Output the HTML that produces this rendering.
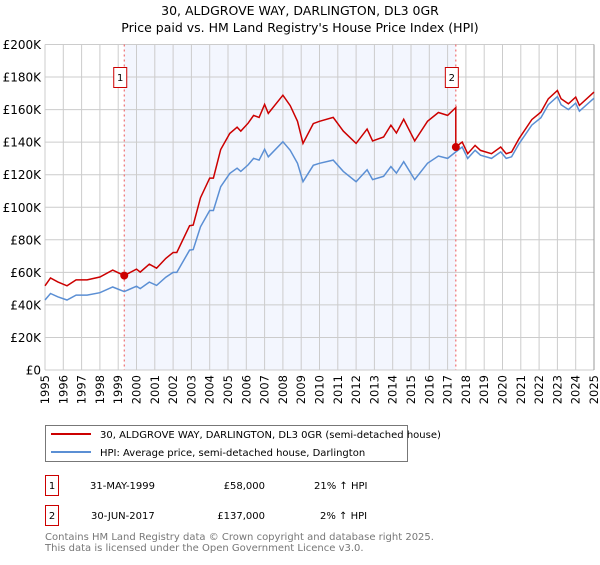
<!DOCTYPE html>
<html><head><meta charset="utf-8"><style>
body{margin:0;background:#fff;font-family:"Liberation Sans","DejaVu Sans",sans-serif;}
svg text{font-family:"DejaVu Sans","Liberation Sans",sans-serif;}
</style></head><body>
<svg id="c" width="600" height="560" xmlns="http://www.w3.org/2000/svg">
<text x="300" y="15" text-anchor="middle" font-size="12.5">30, ALDGROVE WAY, DARLINGTON, DL3 0GR</text>
<text x="300" y="32" text-anchor="middle" font-size="12.5">Price paid vs. HM Land Registry's House Price Index (HPI)</text>
<g id="plot"></g>
<g>
<rect x="45.5" y="425.5" width="362" height="36" fill="#fff" stroke="#777"/>
<line x1="51" y1="434" x2="91" y2="434" stroke="#cc0000" stroke-width="2"/>
<text x="100" y="438" font-size="10">30, ALDGROVE WAY, DARLINGTON, DL3 0GR (semi-detached house)</text>
<line x1="51" y1="452" x2="91" y2="452" stroke="#5b8fd4" stroke-width="2"/>
<text x="100" y="456" font-size="10">HPI: Average price, semi-detached house, Darlington</text>
</g>
<g font-size="10">
<rect x="45.5" y="475.5" width="13" height="20" fill="#fff" stroke="#cc0000"/>
<text x="52" y="489" text-anchor="middle">1</text>
<text x="90" y="489">31-MAY-1999</text>
<text x="265" y="489" text-anchor="end">£58,000</text>
<text x="314" y="489">21% ↑ HPI</text>
<rect x="45.5" y="505.5" width="13" height="20" fill="#fff" stroke="#cc0000"/>
<text x="52" y="519" text-anchor="middle">2</text>
<text x="91" y="519">30-JUN-2017</text>
<text x="265" y="519" text-anchor="end">£137,000</text>
<text x="320" y="519">2% ↑ HPI</text>
</g>
<text x="45" y="540" font-size="10" fill="#777">Contains HM Land Registry data © Crown copyright and database right 2025.</text>
<text x="45" y="551" font-size="10" fill="#777">This data is licensed under the Open Government Licence v3.0.</text>
</svg>
<script>
const hpiYears=[1995.0,1995.3,1995.7,1996.2,1996.7,1997.3,1998.0,1998.7,1999.33,2000.0,2000.2,2000.7,2001.1,2001.6,2002.0,2002.2,2002.9,2003.1,2003.5,2004.0,2004.2,2004.6,2005.1,2005.5,2005.7,2006.1,2006.4,2006.7,2007.0,2007.2,2008.0,2008.4,2008.8,2009.1,2009.66,2010.0,2010.75,2011.3,2012.0,2012.6,2012.9,2013.5,2013.9,2014.2,2014.6,2015.2,2015.9,2016.5,2017.0,2017.45,2017.8,2018.1,2018.5,2018.8,2019.4,2019.9,2020.2,2020.5,2020.9,2021.6,2022.1,2022.5,2023.0,2023.2,2023.6,2024.0,2024.2,2025.0];
const hpiValues=[43,47,45,43,46,46,47.5,51,48.2,51.5,50,54,52,57,60,60,73.7,74,88,98,98,112.6,120.8,124,122,126,130,129,135.6,131,140.3,135,127,115.7,125.8,127,129,122,115.7,123,117,119,125,121,128,117,127,131.5,130,134,137,130,135,132,130,134,130,131,139,150.5,155,163,168,163,160,164,159,167];
const saleYears=[1999.33,2017.45];
const salePrices=[58,137];
const saleLabels=["1","2"];
const yTicks=[0,20,40,60,80,100,120,140,160,180,200];
const xTicks=[1995,1996,1997,1998,1999,2000,2001,2002,2003,2004,2005,2006,2007,2008,2009,2010,2011,2012,2013,2014,2015,2016,2017,2018,2019,2020,2021,2022,2023,2024,2025];

const L=45,R=594,T=44.5,B=370;
const x=v=>L+(v-1995)/30*(R-L);
const y=v=>B-v/200*(B-T);
const NS="http://www.w3.org/2000/svg";
const g=document.getElementById('plot');
function mk(tag,attrs,parent){const e=document.createElementNS(NS,tag);for(const k in attrs)e.setAttribute(k,attrs[k]);(parent||g).appendChild(e);return e;}
function hpiAt(t){for(let i=0;i<hpiYears.length-1;i++){if(t<=hpiYears[i+1]){const f=(t-hpiYears[i])/(hpiYears[i+1]-hpiYears[i]);return hpiValues[i]+f*(hpiValues[i+1]-hpiValues[i]);}}return hpiValues[hpiValues.length-1];}

let sh=mk('rect',{x:x(saleYears[0]),y:T,width:x(saleYears[1])-x(saleYears[0]),height:B-T,fill:'#f3f6fe'});


xTicks.forEach(t=>{
 let l=mk('line',{x1:x(t),x2:x(t),y1:T,y2:B,stroke:'#cccccc','stroke-width':1});
 
 
 let tx=mk('text',{x:0,y:0,'font-size':11.5,'text-anchor':'end',transform:`translate(${x(t)+4},${B+5}) rotate(-90)`});
 tx.textContent=t;
 
 
});
yTicks.forEach(t=>{
 let l=mk('line',{x1:L,x2:R,y1:y(t),y2:y(t),stroke:'#cccccc','stroke-width':1});
 
 
 let tx=mk('text',{x:L-4,y:y(t)+4.5,'font-size':12,'text-anchor':'end'});
 tx.textContent=t===0?'£0':'£'+t+'K';
 
 
});
let ax=mk('line',{x1:R,x2:R,y1:T,y2:B,stroke:'#999'});


saleYears.forEach((s,i)=>{
 let l=mk('line',{x1:x(s),x2:x(s),y1:T,y2:B,stroke:'#ee5555','stroke-width':1,'stroke-dasharray':'2,3'});
 
 
 let r=mk('rect',{x:x(s)-10.5,y:67.5,width:13,height:20,fill:'#fff',stroke:'#cc0000'});
 
 
 let tx=mk('text',{x:x(s)-4,y:81,'font-size':10,'text-anchor':'middle'});
 tx.textContent=saleLabels[i];
 
 
});
// HPI line
let hp=hpiYears.map((t,i)=>x(t).toFixed(1)+','+y(hpiValues[i]).toFixed(1)).join(' ');
let hl=mk('polyline',{points:hp,fill:'none',stroke:'#5b8fd4','stroke-width':1.5});


// property line: hpi scaled by sale ratios
const f0=salePrices[0]/hpiAt(saleYears[0]), f1=salePrices[1]/hpiAt(saleYears[1]);
let pts=[];
hpiYears.forEach((t,i)=>{
 if(t<saleYears[1]) pts.push([t,hpiValues[i]*f0]);
 if(t>=saleYears[1]&&pts.length&&pts[pts.length-1][0]<saleYears[1]){pts.push([saleYears[1],hpiAt(saleYears[1])*f0]);pts.push([saleYears[1],salePrices[1]]);}
 if(t>saleYears[1]) pts.push([t,hpiValues[i]*f1]);
});
let pl=mk('polyline',{points:pts.map(p=>x(p[0]).toFixed(1)+','+y(p[1]).toFixed(1)).join(' '),fill:'none',stroke:'#cc0000','stroke-width':1.5});


saleYears.forEach((s,i)=>{
 let c=mk('circle',{cx:x(s),cy:y(salePrices[i]),r:4,fill:'#cc0000'});
 
 
});
</script>
</body></html>
